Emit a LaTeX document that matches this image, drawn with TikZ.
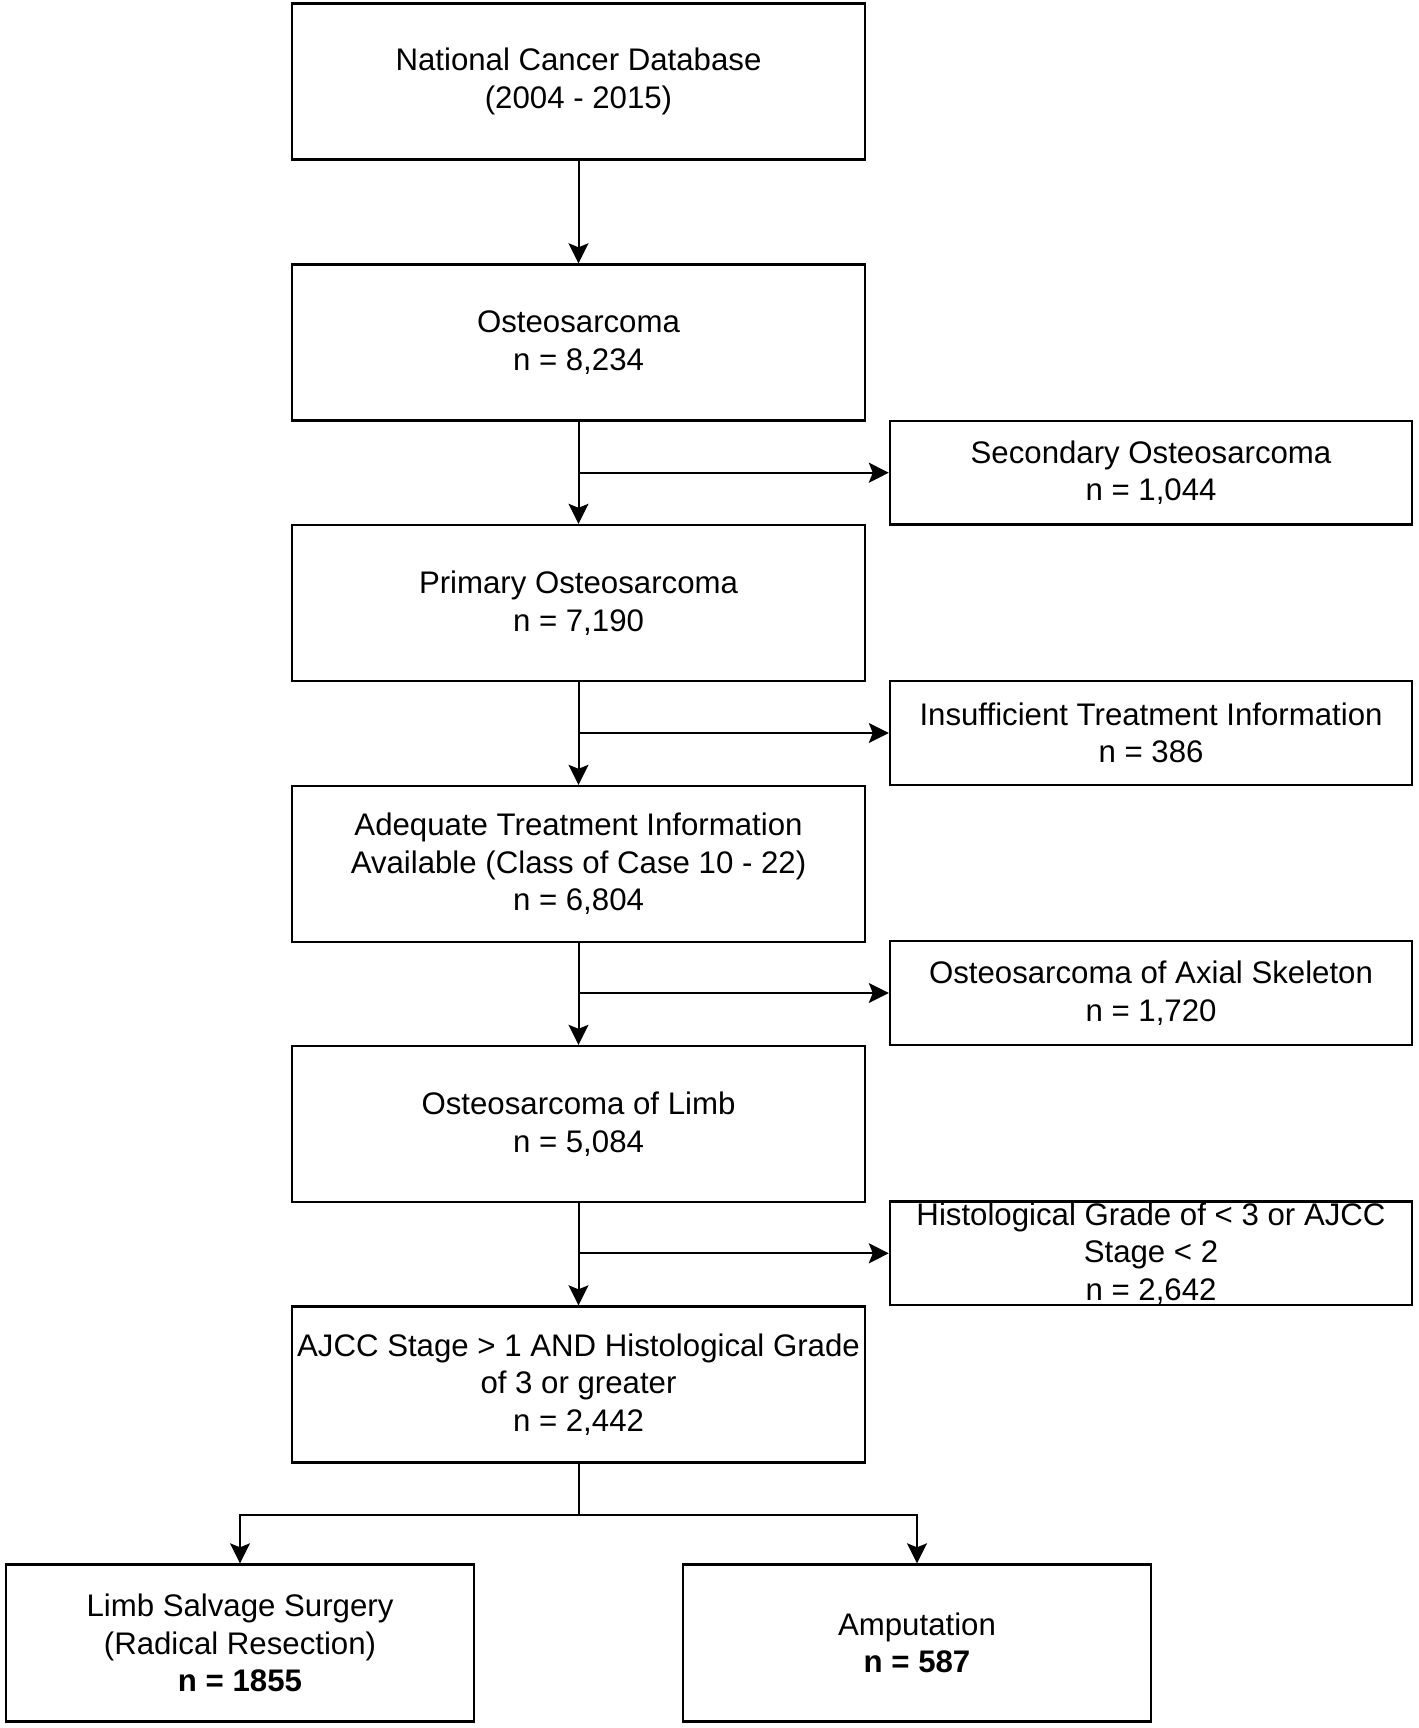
\documentclass[tikz,border=0pt]{standalone}
\usepackage{fontspec}
\setmainfont{Liberation Sans}
\usetikzlibrary{arrows.meta}

\tikzset{
  flowbox/.style={draw, line width=1.2pt, inner sep=0pt, align=center,
    font=\fontsize{15.6}{18.75}\selectfont},
  mainbox/.style={flowbox, minimum width=286.5pt, minimum height=78pt},
  sidebox/.style={flowbox, minimum width=261pt, minimum height=51.75pt},
  endbox/.style={flowbox, minimum width=234.25pt, minimum height=78.5pt},
  flowline/.style={line width=1pt},
  flowarrow/.style={flowline, -{Stealth[length=10pt, width=10pt, inset=2pt]}}
}

\begin{document}
\begin{tikzpicture}[x=0.5pt,y=0.5pt,yscale=-1,xscale=1]
\useasboundingbox (0,0) rectangle (1418,1728);

%Shape: Rectangle [main column]
\node[mainbox] (ncdb) at (578.5,81.5) {National Cancer Database\\(2004 - 2015)};
\node[mainbox] (osteo) at (578.5,342.5) {Osteosarcoma\\n = 8,234};
\node[mainbox] (primary) at (578.5,603) {Primary Osteosarcoma\\n = 7,190};
\node[mainbox] (adequate) at (578.5,864) {Adequate Treatment Information\\Available (Class of Case 10 - 22)\\n = 6,804};
\node[mainbox] (limb) at (578.5,1124) {Osteosarcoma of Limb\\n = 5,084};
\node[mainbox] (highgrade) at (578.5,1384.5) {AJCC Stage > 1 AND Histological Grade\\of 3 or greater\\n = 2,442};

%Shape: Rectangle [excluded]
\node[sidebox] (secondary) at (1151,472.7) {Secondary Osteosarcoma\\n = 1,044};
\node[sidebox] (insuff) at (1151,733) {Insufficient Treatment Information\\n = 386};
\node[sidebox] (axial) at (1151,993) {Osteosarcoma of Axial Skeleton\\n = 1,720};
\node[sidebox] (lowgrade) at (1151,1253.3) {Histological Grade of < 3 or AJCC\\Stage < 2\\n = 2,642};

%Shape: Rectangle [outcome]
\node[endbox] (salvage) at (240,1643) {Limb Salvage Surgery\\(Radical Resection)\\\textbf{n = 1855}};
\node[endbox] (amput) at (917,1643) {Amputation\\\textbf{n = 587}};

%Straight Lines [main column]
\draw[flowarrow] (ncdb) -- (osteo);
\draw[flowarrow] (osteo) -- (primary);
\draw[flowarrow] (primary) -- (adequate);
\draw[flowarrow] (adequate) -- (limb);
\draw[flowarrow] (limb) -- (highgrade);

%Straight Lines [exclusions]
\draw[flowarrow] (osteo.south |- secondary) -- (secondary);
\draw[flowarrow] (primary.south |- insuff) -- (insuff);
\draw[flowarrow] (adequate.south |- axial) -- (axial);
\draw[flowarrow] (limb.south |- lowgrade) -- (lowgrade);

%Straight Lines [split]
\coordinate (split) at (578.5,1515);
\draw[flowline] (highgrade) -- (split);
\draw[flowarrow] (split) -| (salvage);
\draw[flowarrow] (split) -| (amput);

\end{tikzpicture}
\end{document}
